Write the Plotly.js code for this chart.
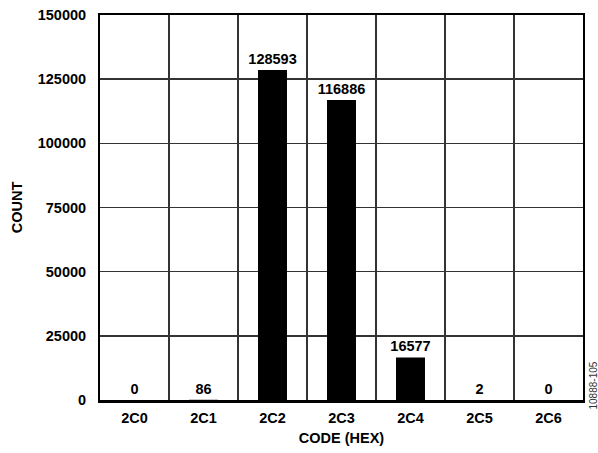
<!DOCTYPE html>
<html>
<head>
<meta charset="utf-8">
<script src="https://cdn.plot.ly/plotly-3.0.1.min.js"></script>
<style>html,body{margin:0;padding:0;background:#fff;}#chart{width:598px;height:453px;}</style>
</head>
<body>
<div id="chart"></div>
<script>
const codes = ["2C0", "2C1", "2C2", "2C3", "2C4", "2C5", "2C6"];
const counts = [0, 86, 128593, 116886, 16577, 2, 0];
const yTicks = [0, 25000, 50000, 75000, 100000, 125000, 150000];

const font = "Liberation Sans, Arial, sans-serif";
const fs = 14.5;
const trace = {
  type: "bar",
  x: codes,
  y: counts,
  text: counts.map(String),
  textposition: "outside",
  constraintext: "none",
  cliponaxis: false,
  textfont: {family: font, size: fs, color: "#000", weight: "bold"},
  marker: {color: "#000", line: {width: 0}},
  width: 0.42,
  hoverinfo: "none"
};
const layout = {
  width: 598, height: 453,
  margin: {l: 100, r: 15, t: 15, b: 53},
  paper_bgcolor: "#fff", plot_bgcolor: "#fff",
  showlegend: false,
  font: {family: font, size: fs, color: "#000", weight: "bold"},
  xaxis: {
    type: "category",
    tickson: "boundaries",
    ticks: "",
    ticklabelstandoff: 3,
    showgrid: true, gridcolor: "#333", gridwidth: 1.5,
    showline: true, linecolor: "#000", linewidth: 2.5, mirror: true,
    tickfont: {family: font, size: fs, weight: "bold"},
    title: {text: "CODE (HEX)", font: {family: font, size: fs, weight: "bold"}, standoff: 8},
    fixedrange: true
  },
  yaxis: {
    range: [0, 150000],
    tickvals: yTicks,
    ticktext: yTicks.map(String),
    ticks: "",
    ticklabelstandoff: 9,
    showgrid: true, gridcolor: "#333", gridwidth: 1.5,
    zeroline: false,
    showline: true, linecolor: "#000", linewidth: 2, mirror: true,
    tickfont: {family: font, size: fs, weight: "bold"},
    title: {text: "COUNT", font: {family: font, size: fs, weight: "bold"}, standoff: 12},
    fixedrange: true
  },
  annotations: [{
    text: "10888-105",
    xref: "paper", yref: "paper",
    x: 1, y: 0, xanchor: "left", yanchor: "bottom",
    xshift: 2, yshift: -12,
    textangle: -90,
    showarrow: false,
    font: {family: font, size: 10, color: "#333", weight: "normal"}
  }]
};
Plotly.newPlot("chart", [trace], layout, {displayModeBar: false, staticPlot: true});
</script>
</body>
</html>
